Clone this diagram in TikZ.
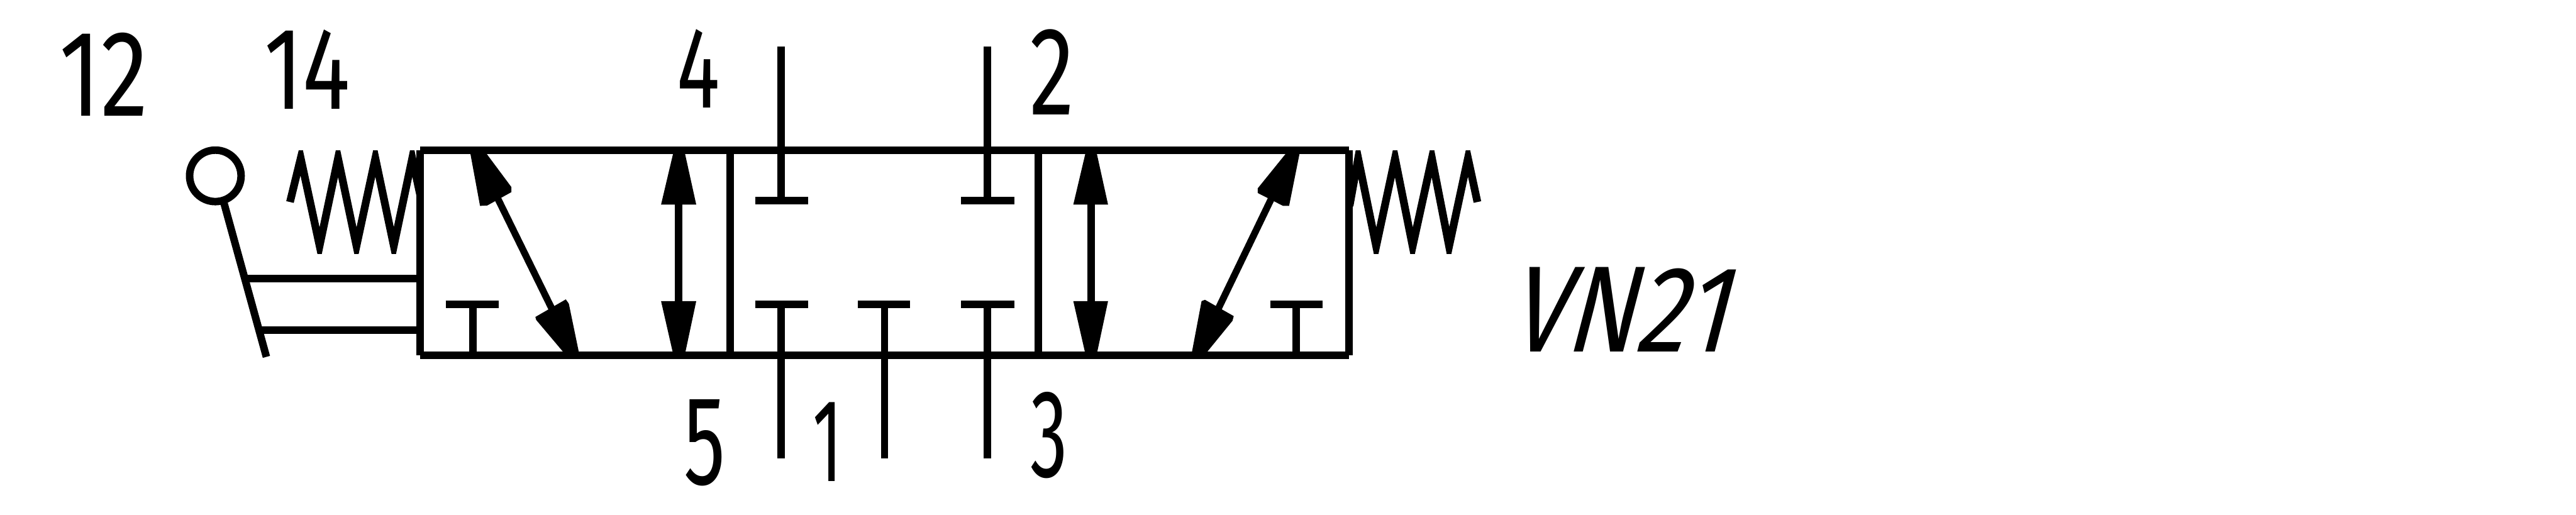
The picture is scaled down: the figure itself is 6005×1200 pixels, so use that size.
\documentclass[tikz,border=0pt]{standalone}
\usepackage{fontspec}
\usepackage{graphicx}
\newfontfamily\isofont{Fira Sans}
\tikzset{
  px/.style={x=0.01cm,y=-0.01cm},
  wire/.style={draw=black,line width=0.175cm,line cap=butt,line join=miter},
  thin wire/.style={draw=black,line width=0.16cm,line cap=butt},
  coil/.style={draw=black,line width=0.18cm,line cap=butt,line join=miter,miter limit=20},
  head/.style={fill=black,draw=none},
  lab/.style={inner sep=0pt,outer sep=0pt,anchor=center,text=black,font=\isofont}
}
% fit text to a box given in reference pixels
\newcommand{\fitlab}[3]{\resizebox{#1\dimexpr0.01cm\relax}{#2\dimexpr0.01cm\relax}{#3}}
\begin{document}
\begin{tikzpicture}[px]
\useasboundingbox (0,0) rectangle (6005,1200);
\fill[white] (0,0) rectangle (6005,1200);
% valve envelope
\draw[wire] (980,350) -- (3144,350);
\draw[wire] (980,829) -- (3144,829);
\draw[wire] (980,350) -- (980,829);
\draw[wire] (3144,350) -- (3144,829);
\draw[wire] (1702,350) -- (1702,829);
\draw[wire] (2421,350) -- (2421,829);
% top ports
\draw[wire] (1821,109) -- (1821,468);
\draw[wire] (2302,109) -- (2302,468);
\draw[wire] (1760,468) -- (1884,468);
\draw[wire] (2240,468) -- (2364,468);
% bottom ports
\draw[wire] (1821,710) -- (1821,1069);
\draw[wire] (2062,710) -- (2062,1069);
\draw[wire] (2302,710) -- (2302,1069);
\draw[wire] (1760,710) -- (1884,710);
\draw[wire] (2000,710) -- (2122,710);
\draw[wire] (2240,710) -- (2364,710);
% blocked exhausts
\draw[wire] (1039,710) -- (1162,710);
\draw[wire] (1102,710) -- (1102,829);
\draw[wire] (2961,710) -- (3083,710);
\draw[wire] (3021,710) -- (3021,829);
% straight arrows
\draw[wire] (1582,470) -- (1582,710);
\fill[head] (1571,350) -- (1595,350) -- (1623,477) -- (1541,477) -- cycle;
\fill[head] (1541,702) -- (1623,702) -- (1596,829) -- (1570,829) -- cycle;
\draw[wire] (2543,470) -- (2543,710);
\fill[head] (2532,350) -- (2555,350) -- (2583,477) -- (2502,477) -- cycle;
\fill[head] (2502,702) -- (2583,702) -- (2556,829) -- (2531,829) -- cycle;
% diagonal arrows
\draw[thin wire] (1155,452) -- (1290,727);
\fill[head] (1095,350) -- (1128,350) -- (1192,436) -- (1192,448) -- (1136,479) -- (1119,480) -- cycle;
\fill[head] (1248,739) -- (1319,698) -- (1326,708) -- (1351,829) -- (1320,829) -- (1250,746) -- cycle;
\draw[thin wire] (2970,450) -- (2835,730);
\fill[head] (3004,350) -- (3031,350) -- (3005,480) -- (2991,480) -- (2932,450) -- (2932,439) -- cycle;
\fill[head] (2801,702) -- (2809,699) -- (2876,737) -- (2873,748) -- (2807,829) -- (2777,829) -- cycle;
% springs
\begin{scope}
\clip (600,351) rectangle (985,591);
\draw[coil] (676,471) -- (701,369) -- (745,573) -- (788,369) -- (831,573) -- (875,369) -- (918,573) -- (961,369) -- (985,480);
\end{scope}
\begin{scope}
\clip (3140,351) rectangle (3500,592);
\draw[coil] (3146,480) -- (3166,369) -- (3208,574) -- (3252,369) -- (3293,574) -- (3338,369) -- (3378,574) -- (3422,369) -- (3444,471);
\end{scope}
% lever
\draw[wire] (502,410) circle (60);
\draw[wire] (522,473) -- (621,832);
\draw[wire] (572,649) -- (980,649);
\draw[wire] (610,769) -- (980,769);
% labels
\node[lab] (p12) at (241.5,174) {\fitlab{207}{194}{12}};
\node[lab] (p14) at (716,161.5) {\fitlab{200}{185}{14}};
\node[lab] (p4) at (1628,159.5) {\fitlab{100}{183}{4}};
\node[lab] (p2) at (2453,167.5) {\fitlab{104}{199}{2}};
\node[lab] (p5) at (1642.5,1032) {\fitlab{97}{198}{5}};
\node[lab] (p1) at (1930,1030) {\fitlab{69}{184}{1}};
\node[lab] (p3) at (2445.5,1014) {\fitlab{87}{198}{3}};
\node[lab,xslant=0.26,transform shape] (tag) at (3794,721.5) {\fitlab{510}{197}{VN21}};
\end{tikzpicture}
\end{document}
